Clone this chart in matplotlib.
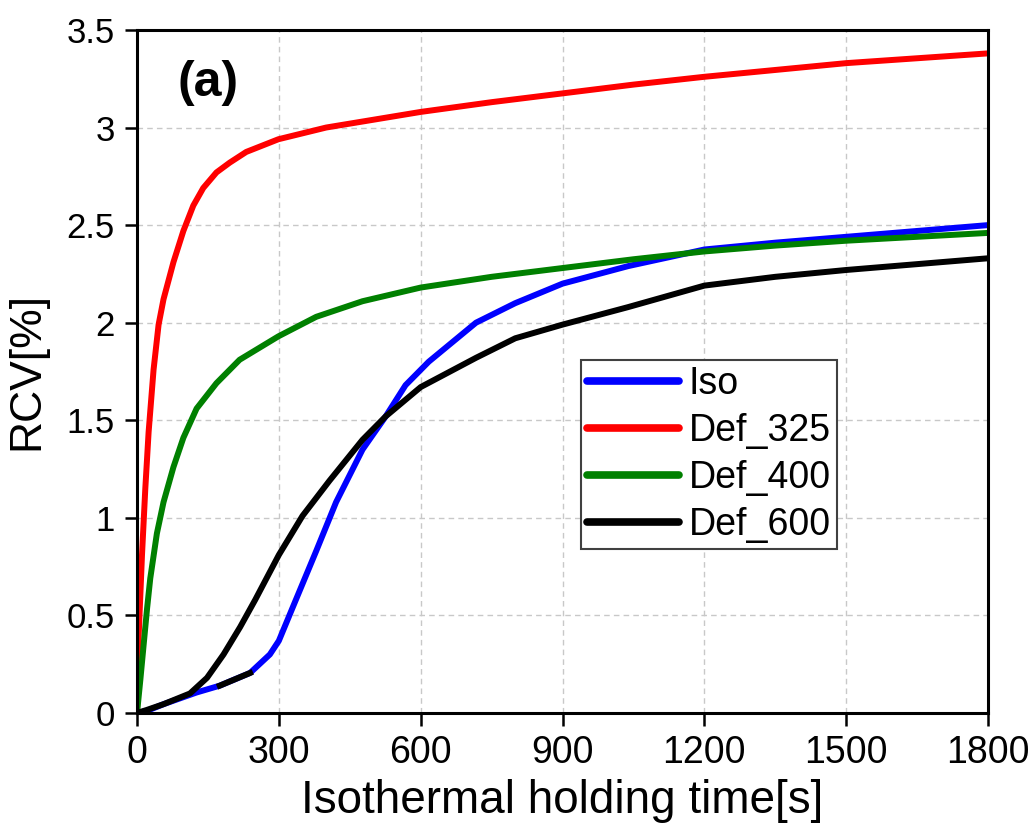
import numpy as np
import matplotlib
matplotlib.use('Agg')
import matplotlib.pyplot as plt

plt.rcParams['font.family'] = ['Liberation Sans', 'DejaVu Sans']

#### Data (time in s, RCV in %) ####
iso_t = [0, 20, 56, 126, 175, 239, 281, 300, 336, 379, 421, 477, 526, 568,
         617, 717, 800, 900, 1039, 1200, 1350, 1500, 1650, 1800]
iso_v = [0, 0.01, 0.045, 0.105, 0.14, 0.205, 0.30, 0.37, 0.58, 0.83, 1.08,
         1.35, 1.52, 1.68, 1.80, 2.0, 2.10, 2.20, 2.29, 2.375, 2.41, 2.44,
         2.47, 2.50]

d325_t = [0, 3.5, 10.5, 17.5, 24.5, 35, 45.6, 56, 77, 98, 119, 140, 168,
          196, 231, 299, 400, 500, 600, 750, 900, 1050, 1200, 1350, 1500,
          1650, 1800]
d325_v = [0, 0.40, 0.81, 1.15, 1.44, 1.76, 1.99, 2.12, 2.31, 2.47, 2.60,
          2.69, 2.77, 2.82, 2.875, 2.94, 3.0, 3.04, 3.08, 3.13, 3.175, 3.22,
          3.26, 3.295, 3.33, 3.355, 3.38]

d400_t = [0, 7, 14, 21, 28, 42, 56, 77, 98, 126, 168, 217, 299, 379, 477,
          600, 750, 900, 1050, 1200, 1350, 1500, 1650, 1800]
d400_v = [0, 0.17, 0.35, 0.53, 0.69, 0.92, 1.08, 1.26, 1.41, 1.56, 1.69,
          1.81, 1.93, 2.03, 2.11, 2.18, 2.235, 2.28, 2.325, 2.365, 2.395,
          2.42, 2.44, 2.46]

d600_t = [0, 20, 56, 112, 148, 183, 218, 250, 300, 350, 407, 477, 526, 600,
          717, 800, 900, 1039, 1200, 1350, 1500, 1650, 1800]
d600_v = [0, 0.015, 0.045, 0.10, 0.18, 0.30, 0.44, 0.58, 0.81, 1.01, 1.19,
          1.40, 1.52, 1.67, 1.82, 1.92, 1.99, 2.08, 2.19, 2.235, 2.27, 2.30,
          2.33]

labels = ['Iso', 'Def_325', 'Def_400', 'Def_600']
colors = ['#0000ff', '#ff0000', '#008000', '#000000']

x_ticks = [0, 300, 600, 900, 1200, 1500, 1800]
y_ticks = [0, 0.5, 1, 1.5, 2, 2.5, 3, 3.5]
y_ticklabels = ['0', '0.5', '1', '1.5', '2', '2.5', '3', '3.5']

fig = plt.figure(figsize=(10.35, 8.3), dpi=100)
ax = fig.add_axes([0.1324, 0.141, 0.8222, 0.8229])

series = [(iso_t, iso_v), (d325_t, d325_v), (d400_t, d400_v), (d600_t, d600_v)]
for (t, v), lab, c in zip(series, labels, colors):
    ax.plot(t, v, color=c, lw=4.3, label=lab, solid_capstyle='round')

# short black piece lying on top of the Iso curve in the original
iso_t_arr = np.array(iso_t)
seg = (iso_t_arr >= 175) & (iso_t_arr <= 239)
ax.plot(iso_t_arr[seg], np.array(iso_v)[seg], color='k', lw=4.3)

ax.set_xlim(0, 1800)
ax.set_ylim(0, 3.5)
ax.set_xticks(x_ticks)
ax.set_yticks(y_ticks)
ax.set_yticklabels(y_ticklabels)
ax.tick_params(axis='x', labelsize=27, length=9, width=1.8, pad=7)
ax.tick_params(axis='y', labelsize=25, length=9, width=1.8, pad=7)
for s in ax.spines.values():
    s.set_linewidth(2.2)
ax.grid(True, color='#c8c8c8', ls=(0, (4, 3)), lw=1.0)

ax.set_xlabel('Isothermal holding time[s]', fontsize=33)
ax.set_ylabel('RCV[%]', fontsize=32)
ax.xaxis.set_label_coords(0.5, -0.097)
ax.yaxis.set_label_coords(-0.105, 0.5)

ax.text(0.083, 0.922, '(a)', transform=ax.transAxes, fontsize=36,
        fontweight='bold', ha='center', va='center')

leg = ax.legend(loc='lower left', bbox_to_anchor=(0.522, 0.240),
                borderaxespad=0, fontsize=27, fancybox=False, framealpha=1,
                edgecolor='#404040', handlelength=2.45, handletextpad=0.27,
                labelspacing=0.3, borderpad=0.15)
leg.get_frame().set_linewidth(1.5)
for h in leg.get_lines():
    h.set_linewidth(5.5)

fig.savefig('out.png', dpi=100)
